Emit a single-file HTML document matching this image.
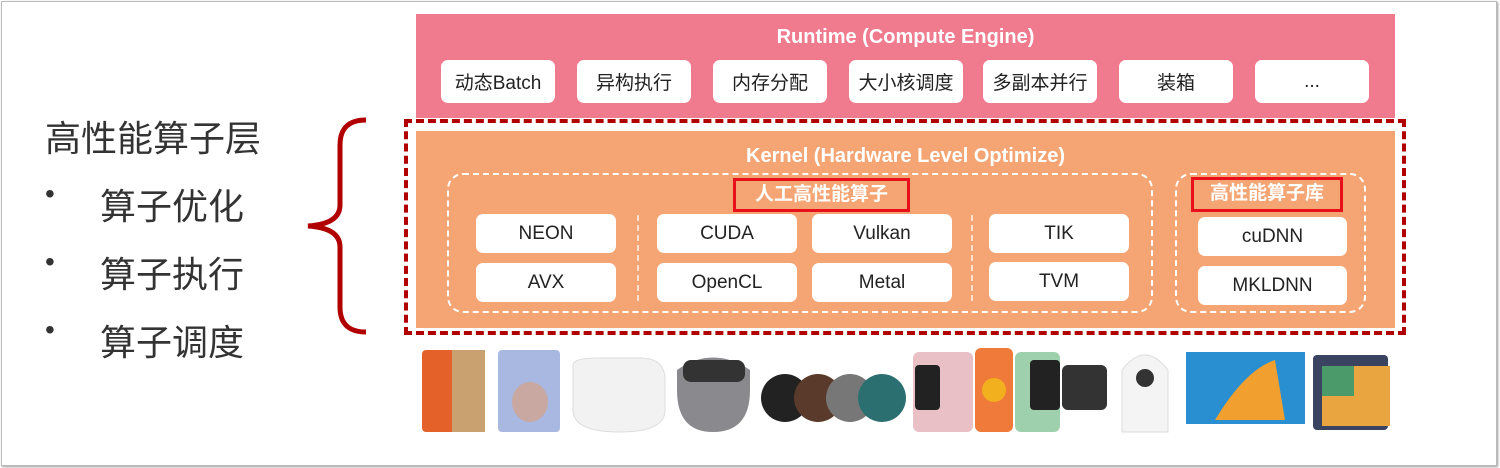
<!DOCTYPE html>
<html><head><meta charset="utf-8"><style>
*{margin:0;padding:0;box-sizing:border-box}
body{width:1500px;height:468px;background:#fff;position:relative;overflow:hidden;font-family:"Liberation Sans","Noto Sans CJK SC",sans-serif}
.a{position:absolute}
.btn{position:absolute;background:#fff;border-radius:7px;display:flex;align-items:center;justify-content:center;font-size:19px;color:#222}
.lt{position:absolute;font-size:36px;color:#333;font-family:"Liberation Sans","Noto Sans CJK SC",sans-serif}
.w{color:#fff;font-weight:bold;font-size:20px;text-align:center}
</style></head><body>
<div class="a" style="left:1px;top:1px;width:1496px;height:465px;border:1px solid #bbb;box-shadow:1px 1px 2px #999"></div>
<!-- left text -->
<div class="lt" style="left:45px;top:110px">高性能算子层</div>
<div class="lt" style="left:45px;top:178px;font-size:28px">•</div><div class="lt" style="left:100px;top:178px">算子优化</div>
<div class="lt" style="left:45px;top:246px;font-size:28px">•</div><div class="lt" style="left:100px;top:246px">算子执行</div>
<div class="lt" style="left:45px;top:314px;font-size:28px">•</div><div class="lt" style="left:100px;top:314px">算子调度</div>
<svg class="a" style="left:300px;top:115px" width="70" height="222"><path d="M66 5 Q40 5 40 30 L40 90 Q40 109 8 111 Q40 113 40 132 L40 192 Q40 217 66 217" fill="none" stroke="#b00000" stroke-width="5"/></svg>
<!-- runtime -->
<div class="a" style="left:416px;top:14px;width:979px;height:104px;background:#f07a8e"></div>
<div class="a w" style="left:416px;top:26px;width:979px">Runtime (Compute Engine)</div>
<div class="btn" style="left:441px;top:60px;width:114px;height:43px">动态Batch</div>
<div class="btn" style="left:577px;top:60px;width:114px;height:43px">异构执行</div>
<div class="btn" style="left:713px;top:60px;width:114px;height:43px">内存分配</div>
<div class="btn" style="left:849px;top:60px;width:114px;height:43px">大小核调度</div>
<div class="btn" style="left:983px;top:60px;width:114px;height:43px">多副本并行</div>
<div class="btn" style="left:1119px;top:60px;width:114px;height:43px">装箱</div>
<div class="btn" style="left:1255px;top:60px;width:114px;height:43px">...</div>
<!-- kernel -->
<div class="a" style="left:404px;top:119px;width:1002px;height:216px;border:4px dashed #b00000"></div>
<div class="a" style="left:416px;top:131px;width:979px;height:197px;background:#f5a573"></div>
<div class="a w" style="left:416px;top:145px;width:979px">Kernel (Hardware Level Optimize)</div>
<div class="a" style="left:447px;top:173px;width:706px;height:140px;border:2px dashed #fff;border-radius:16px"></div>
<div class="a" style="left:1175px;top:173px;width:191px;height:140px;border:2px dashed #fff;border-radius:16px"></div>
<div class="a" style="left:637px;top:215px;height:86px;border-left:2px dashed #fde0cc"></div>
<div class="a" style="left:971px;top:215px;height:86px;border-left:2px dashed #fde0cc"></div>
<div class="a w" style="left:733px;top:178px;width:177px;height:34px;border:3px solid #e8101a;line-height:27px;font-size:19px">人工高性能算子</div>
<div class="a w" style="left:1191px;top:177px;width:152px;height:35px;border:3px solid #e8101a;line-height:28px;font-size:19px">高性能算子库</div>
<div class="btn" style="left:476px;top:214px;width:140px;height:39px">NEON</div>
<div class="btn" style="left:476px;top:263px;width:140px;height:39px">AVX</div>
<div class="btn" style="left:657px;top:214px;width:140px;height:39px">CUDA</div>
<div class="btn" style="left:657px;top:263px;width:140px;height:39px">OpenCL</div>
<div class="btn" style="left:812px;top:214px;width:140px;height:39px">Vulkan</div>
<div class="btn" style="left:812px;top:263px;width:140px;height:39px">Metal</div>
<div class="btn" style="left:989px;top:214px;width:140px;height:39px">TIK</div>
<div class="btn" style="left:989px;top:262px;width:140px;height:39px">TVM</div>
<div class="btn" style="left:1198px;top:217px;width:149px;height:39px">cuDNN</div>
<div class="btn" style="left:1198px;top:266px;width:149px;height:39px">MKLDNN</div>
<!-- devices -->
<svg class="a" style="left:0;top:340px" width="1500" height="100">
<rect x="422" y="10" width="63" height="82" rx="4" fill="#e4622a"/><rect x="452" y="10" width="33" height="82" fill="#c9a070"/>
<rect x="498" y="10" width="62" height="82" rx="4" fill="#a9b8e0"/><ellipse cx="530" cy="62" rx="18" ry="20" fill="#c8a8a0"/>
<path d="M573 25 Q573 18 598 18 L640 18 Q665 18 665 40 L665 70 Q665 92 620 92 Q573 92 573 70Z" fill="#f2f2f2" stroke="#ddd"/>
<path d="M677 30 Q713 5 750 30 L750 50 Q750 92 713 92 Q677 92 677 50Z" fill="#8a8a8e"/><rect x="683" y="20" width="62" height="22" rx="8" fill="#333"/>
<circle cx="785" cy="58" r="24" fill="#222"/><circle cx="818" cy="58" r="24" fill="#5a3a2a"/><circle cx="850" cy="58" r="24" fill="#777"/><circle cx="882" cy="58" r="24" fill="#2b6f70"/>
<rect x="913" y="12" width="60" height="80" rx="6" fill="#e9c0c5"/><rect x="915" y="25" width="25" height="45" rx="4" fill="#222"/>
<rect x="975" y="8" width="38" height="84" rx="6" fill="#f07a3a"/><circle cx="994" cy="50" r="12" fill="#f2b01e"/>
<rect x="1015" y="12" width="45" height="80" rx="6" fill="#9fd0ad"/><rect x="1030" y="20" width="30" height="50" rx="4" fill="#222"/><rect x="1062" y="25" width="45" height="45" rx="6" fill="#333"/>
<path d="M1122 30 Q1145 0 1168 30 L1168 92 L1122 92Z" fill="#f4f4f4" stroke="#ddd"/><circle cx="1145" cy="38" r="9" fill="#333"/>
<rect x="1186" y="12" width="119" height="72" fill="#2a8fd0"/><path d="M1215 80 Q1245 30 1275 20 L1285 80Z" fill="#f1a030"/>
<rect x="1313" y="15" width="75" height="75" rx="4" fill="#3a4460"/><rect x="1322" y="26" width="68" height="60" fill="#e9a640"/><rect x="1322" y="26" width="32" height="30" fill="#4a9a6a"/>
</svg>
</body></html>
